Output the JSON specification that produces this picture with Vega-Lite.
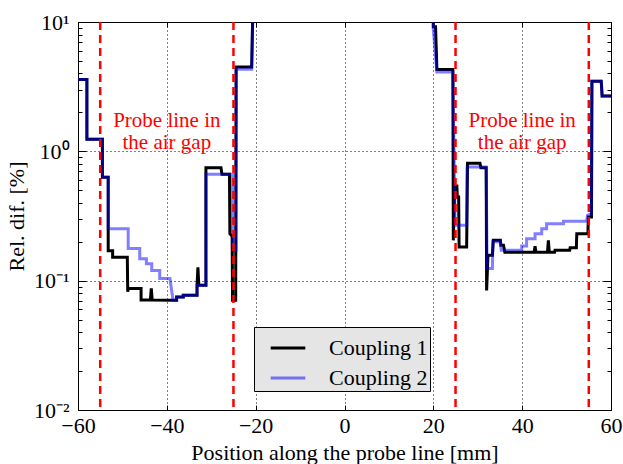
{
  "$schema": "https://vega.github.io/schema/vega-lite/v6.json",
  "width": 533,
  "height": 388,
  "autosize": {"type": "none"},
  "padding": {"left": 78, "top": 22, "right": 12, "bottom": 54},
  "background": "white",
  "datasets": {
    "curves": [
      {"series":"Coupling 1","pos":-60,"val":3.6},{"series":"Coupling 1","pos":-58,"val":3.6},{"series":"Coupling 1","pos":-58,"val":1.24},{"series":"Coupling 1","pos":-54.5,"val":1.24},{"series":"Coupling 1","pos":-54.5,"val":0.63},{"series":"Coupling 1","pos":-53.2,"val":0.63},{"series":"Coupling 1","pos":-53.2,"val":0.17},{"series":"Coupling 1","pos":-52.2,"val":0.17},{"series":"Coupling 1","pos":-52.2,"val":0.152},{"series":"Coupling 1","pos":-48.9,"val":0.152},{"series":"Coupling 1","pos":-48.8,"val":0.082},{"series":"Coupling 1","pos":-48.7,"val":0.087},{"series":"Coupling 1","pos":-45.8,"val":0.087},{"series":"Coupling 1","pos":-45.8,"val":0.071},{"series":"Coupling 1","pos":-43.7,"val":0.071},{"series":"Coupling 1","pos":-43.5,"val":0.087},{"series":"Coupling 1","pos":-43.3,"val":0.071},{"series":"Coupling 1","pos":-38.6,"val":0.0705},{"series":"Coupling 1","pos":-37.8,"val":0.0705},{"series":"Coupling 1","pos":-37.8,"val":0.0747},{"series":"Coupling 1","pos":-36.3,"val":0.0747},{"series":"Coupling 1","pos":-36.3,"val":0.077},{"series":"Coupling 1","pos":-33.2,"val":0.077},{"series":"Coupling 1","pos":-33.2,"val":0.092},{"series":"Coupling 1","pos":-33.0,"val":0.127},{"series":"Coupling 1","pos":-32.8,"val":0.092},{"series":"Coupling 1","pos":-31.2,"val":0.092},{"series":"Coupling 1","pos":-31.2,"val":0.748},{"series":"Coupling 1","pos":-27.8,"val":0.748},{"series":"Coupling 1","pos":-27.6,"val":0.664},{"series":"Coupling 1","pos":-25.9,"val":0.664},{"series":"Coupling 1","pos":-25.8,"val":0.231},{"series":"Coupling 1","pos":-25.3,"val":0.22},{"series":"Coupling 1","pos":-25.2,"val":0.0705},{"series":"Coupling 1","pos":-24.5,"val":0.0705},{"series":"Coupling 1","pos":-24.4,"val":4.49},{"series":"Coupling 1","pos":-20.9,"val":4.49},{"series":"Coupling 1","pos":-20.4,"val":30},{"series":"Coupling 1","pos":19.9,"val":30},{"series":"Coupling 1","pos":20.0,"val":9.2},{"series":"Coupling 1","pos":20.5,"val":9.2},{"series":"Coupling 1","pos":20.8,"val":4.29},{"series":"Coupling 1","pos":24.4,"val":4.29},{"series":"Coupling 1","pos":24.5,"val":0.205},{"series":"Coupling 1","pos":24.8,"val":0.54},{"series":"Coupling 1","pos":25.3,"val":0.54},{"series":"Coupling 1","pos":25.4,"val":0.443},{"series":"Coupling 1","pos":25.7,"val":0.443},{"series":"Coupling 1","pos":25.8,"val":0.182},{"series":"Coupling 1","pos":27.5,"val":0.182},{"series":"Coupling 1","pos":27.7,"val":0.81},{"series":"Coupling 1","pos":30.5,"val":0.81},{"series":"Coupling 1","pos":30.7,"val":0.748},{"series":"Coupling 1","pos":31.9,"val":0.748},{"series":"Coupling 1","pos":32.0,"val":0.084},{"series":"Coupling 1","pos":32.3,"val":0.157},{"series":"Coupling 1","pos":33.3,"val":0.157},{"series":"Coupling 1","pos":33.5,"val":0.205},{"series":"Coupling 1","pos":35.1,"val":0.205},{"series":"Coupling 1","pos":35.2,"val":0.188},{"series":"Coupling 1","pos":35.8,"val":0.188},{"series":"Coupling 1","pos":36.1,"val":0.166},{"series":"Coupling 1","pos":42.7,"val":0.166},{"series":"Coupling 1","pos":42.9,"val":0.185},{"series":"Coupling 1","pos":43.1,"val":0.166},{"series":"Coupling 1","pos":45.7,"val":0.166},{"series":"Coupling 1","pos":45.9,"val":0.205},{"series":"Coupling 1","pos":46.1,"val":0.166},{"series":"Coupling 1","pos":47.3,"val":0.166},{"series":"Coupling 1","pos":47.4,"val":0.172},{"series":"Coupling 1","pos":50.7,"val":0.172},{"series":"Coupling 1","pos":50.8,"val":0.18},{"series":"Coupling 1","pos":52.2,"val":0.18},{"series":"Coupling 1","pos":52.3,"val":0.231},{"series":"Coupling 1","pos":54.8,"val":0.231},{"series":"Coupling 1","pos":54.9,"val":0.31},{"series":"Coupling 1","pos":55.6,"val":0.31},{"series":"Coupling 1","pos":55.7,"val":3.48},{"series":"Coupling 1","pos":57.8,"val":3.48},{"series":"Coupling 1","pos":58.0,"val":2.68},{"series":"Coupling 1","pos":60,"val":2.68},
      {"series":"Coupling 2","pos":-60,"val":3.6},{"series":"Coupling 2","pos":-58,"val":3.6},{"series":"Coupling 2","pos":-58,"val":1.24},{"series":"Coupling 2","pos":-54.5,"val":1.24},{"series":"Coupling 2","pos":-54.5,"val":0.63},{"series":"Coupling 2","pos":-53.2,"val":0.63},{"series":"Coupling 2","pos":-53.2,"val":0.252},{"series":"Coupling 2","pos":-48.7,"val":0.252},{"series":"Coupling 2","pos":-48.7,"val":0.177},{"series":"Coupling 2","pos":-46.1,"val":0.177},{"series":"Coupling 2","pos":-46.1,"val":0.148},{"series":"Coupling 2","pos":-44.6,"val":0.148},{"series":"Coupling 2","pos":-44.6,"val":0.135},{"series":"Coupling 2","pos":-43.4,"val":0.135},{"series":"Coupling 2","pos":-43.4,"val":0.12},{"series":"Coupling 2","pos":-41.6,"val":0.12},{"series":"Coupling 2","pos":-41.6,"val":0.104},{"series":"Coupling 2","pos":-39.3,"val":0.104},{"series":"Coupling 2","pos":-38.6,"val":0.0705},{"series":"Coupling 2","pos":-37.8,"val":0.0705},{"series":"Coupling 2","pos":-37.8,"val":0.0747},{"series":"Coupling 2","pos":-36.3,"val":0.0747},{"series":"Coupling 2","pos":-36.3,"val":0.077},{"series":"Coupling 2","pos":-33.2,"val":0.077},{"series":"Coupling 2","pos":-33.2,"val":0.092},{"series":"Coupling 2","pos":-31.2,"val":0.092},{"series":"Coupling 2","pos":-31.2,"val":0.664},{"series":"Coupling 2","pos":-25.2,"val":0.664},{"series":"Coupling 2","pos":-25.2,"val":0.171},{"series":"Coupling 2","pos":-24.4,"val":0.171},{"series":"Coupling 2","pos":-24.4,"val":4.31},{"series":"Coupling 2","pos":-20.9,"val":4.31},{"series":"Coupling 2","pos":-20.4,"val":30},{"series":"Coupling 2","pos":19.9,"val":30},{"series":"Coupling 2","pos":20.0,"val":8.7},{"series":"Coupling 2","pos":20.8,"val":4.1},{"series":"Coupling 2","pos":24.4,"val":4.1},{"series":"Coupling 2","pos":24.9,"val":0.268},{"series":"Coupling 2","pos":27.5,"val":0.268},{"series":"Coupling 2","pos":27.6,"val":0.756},{"series":"Coupling 2","pos":31.9,"val":0.756},{"series":"Coupling 2","pos":32.1,"val":0.124},{"series":"Coupling 2","pos":33.3,"val":0.124},{"series":"Coupling 2","pos":33.4,"val":0.2},{"series":"Coupling 2","pos":35.1,"val":0.2},{"series":"Coupling 2","pos":35.3,"val":0.172},{"series":"Coupling 2","pos":39.9,"val":0.172},{"series":"Coupling 2","pos":39.9,"val":0.185},{"series":"Coupling 2","pos":41.0,"val":0.185},{"series":"Coupling 2","pos":41.0,"val":0.211},{"series":"Coupling 2","pos":42.9,"val":0.211},{"series":"Coupling 2","pos":42.9,"val":0.231},{"series":"Coupling 2","pos":44.4,"val":0.231},{"series":"Coupling 2","pos":44.4,"val":0.252},{"series":"Coupling 2","pos":45.5,"val":0.252},{"series":"Coupling 2","pos":45.5,"val":0.276},{"series":"Coupling 2","pos":49.3,"val":0.276},{"series":"Coupling 2","pos":49.3,"val":0.288},{"series":"Coupling 2","pos":54.5,"val":0.288},{"series":"Coupling 2","pos":54.7,"val":0.32},{"series":"Coupling 2","pos":55.6,"val":0.33},{"series":"Coupling 2","pos":55.7,"val":3.48},{"series":"Coupling 2","pos":57.8,"val":3.48},{"series":"Coupling 2","pos":58.0,"val":2.68},{"series":"Coupling 2","pos":60,"val":2.68}
    ],
    "gaps": [{"pos": -55}, {"pos": -25}, {"pos": 25}, {"pos": 55}],
    "notes": [
      {"pos": -40, "val": 1.72, "label": ["Probe line in", "the air gap"]},
      {"pos": 40, "val": 1.72, "label": ["Probe line in", "the air gap"]}
    ]
  },
  "resolve": {"axis": {"x": "independent", "y": "independent"}},
  "layer": [
    {
      "data": {"name": "curves"},
      "mark": {"type": "line", "clip": true, "interpolate": "linear"},
      "encoding": {
        "x": {
          "field": "pos", "type": "quantitative",
          "scale": {"domain": [-60, 60], "nice": false, "zero": false},
          "axis": {
            "orient": "bottom",
            "values": [-60, -40, -20, 0, 20, 40, 60],
            "title": "Position along the probe line [mm]",
            "grid": true,
            "tickSize": -5,
            "labelFlush": false,
            "labelPadding": 10,
            "titlePadding": 6
          }
        },
        "y": {
          "field": "val", "type": "quantitative",
          "scale": {"type": "log", "domain": [0.01, 10], "nice": false},
          "axis": {
            "orient": "left",
            "values": [0.01,0.02,0.03,0.04,0.05,0.06,0.07,0.08,0.09,0.1,0.2,0.3,0.4,0.5,0.6,0.7,0.8,0.9,1,2,3,4,5,6,7,8,9,10],
            "labelExpr": "datum.value == 10 ? '10¹' : datum.value == 1 ? '10⁰' : abs(datum.value - 0.1) < 1e-9 ? '10⁻¹' : abs(datum.value - 0.01) < 1e-9 ? '10⁻²' : ''",
            "labelFlush": false,
            "title": "Rel. dif. [%]",
            "grid": true,
            "gridOpacity": {"condition": {"test": "abs(log(datum.value)/LN10 - round(log(datum.value)/LN10)) < 1e-6", "value": 1}, "value": 0},
            "tickSize": {"condition": {"test": "abs(log(datum.value)/LN10 - round(log(datum.value)/LN10)) < 1e-6", "value": -8}, "value": -4},
            "labelPadding": 17,
            "titlePadding": 5
          }
        },
        "color": {
          "field": "series", "type": "nominal",
          "scale": {"domain": ["Coupling 1", "Coupling 2"], "range": ["#000000", "#0000ff"]},
          "legend": {
            "title": null,
            "orient": "none",
            "legendX": 176,
            "legendY": 305,
            "fillColor": "#e5e5e5",
            "strokeColor": "#000000",
            "padding": 2,
            "symbolOffset": 13,
            "symbolType": "stroke",
            "symbolSize": 1200,
            "symbolStrokeWidth": 3,
            "labelFont": "Liberation Serif",
            "labelFontSize": 22,
            "labelColor": "black",
            "labelOffset": 22,
            "labelExpr": "datum.label + '\u00a0\u00a0'",
            "rowPadding": -3
          }
        },
        "opacity": {
          "field": "series", "type": "nominal",
          "scale": {"domain": ["Coupling 1", "Coupling 2"], "range": [1, 0.5]}
        },
        "strokeWidth": {"value": 3},
        "order": {"value": null}
      }
    },
    {
      "data": {"name": "gaps"},
      "mark": {"type": "rule", "color": "#ff0000", "strokeWidth": 2.5, "strokeDash": [8, 5]},
      "encoding": {
        "x": {
          "field": "pos", "type": "quantitative",
          "axis": {
            "orient": "top",
            "values": [-60, -40, -20, 0, 20, 40, 60],
            "labels": false,
            "title": null,
            "grid": false,
            "tickSize": -5
          }
        }
      }
    },
    {
      "data": {"name": "notes"},
      "mark": {"type": "text", "color": "#ff0000", "font": "Liberation Serif", "fontSize": 21, "align": "center", "baseline": "middle", "lineHeight": 22},
      "encoding": {
        "x": {"field": "pos", "type": "quantitative", "axis": null},
        "y": {
          "field": "val", "type": "quantitative",
          "axis": {
            "orient": "right",
            "values": [0.01,0.02,0.03,0.04,0.05,0.06,0.07,0.08,0.09,0.1,0.2,0.3,0.4,0.5,0.6,0.7,0.8,0.9,1,2,3,4,5,6,7,8,9,10],
            "labels": false,
            "title": null,
            "grid": false,
            "tickSize": {"condition": {"test": "abs(log(datum.value)/LN10 - round(log(datum.value)/LN10)) < 1e-6", "value": -8}, "value": -4}
          }
        },
        "text": {"field": "label"}
      }
    }
  ],
  "config": {
    "font": "Liberation Serif",
    "view": {"stroke": "#000000", "strokeWidth": 1},
    "axis": {
      "labelFont": "Liberation Serif",
      "labelFontSize": 22,
      "labelColor": "#000000",
      "titleFont": "Liberation Serif",
      "titleFontSize": 22,
      "titleFontWeight": "normal",
      "titleColor": "#000000",
      "tickColor": "#000000",
      "tickWidth": 1,
      "domain": false,
      "gridColor": "#000000",
      "gridDash": [1, 3],
      "gridWidth": 1,
      "labelOverlap": false
    }
  }
}
